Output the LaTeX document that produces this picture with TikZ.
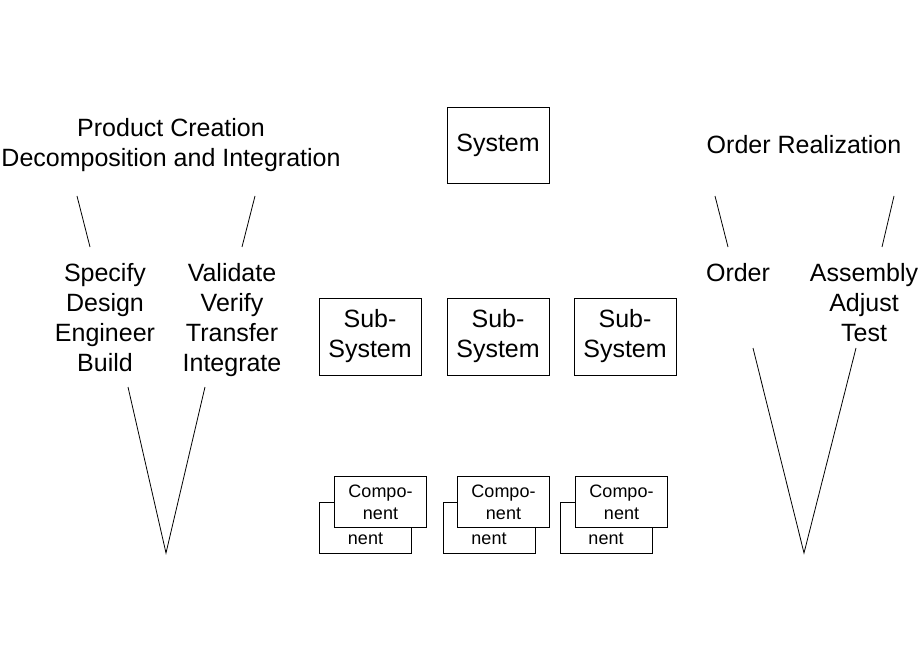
\documentclass[tikz,border=0pt]{standalone}
\usepackage{fontspec}
\setmainfont{Liberation Sans}
\begin{document}
\begin{tikzpicture}[x=1pt,y=-1pt,
  lbl/.style={align=center,inner sep=0pt,font=\fontsize{25}{30}\selectfont},
  boxnode/.style={draw,line width=0.8pt,align=center,inner sep=0pt,font=\fontsize{25}{30}\selectfont},
  compnode/.style={draw,line width=0.8pt,fill=white,align=center,inner sep=0pt,minimum width=92pt,minimum height=51pt,font=\fontsize{18}{22}\selectfont},
  ln/.style={line width=0.8pt}]
\useasboundingbox (0,0) rectangle (920,660);
% titles
\node[lbl] (pc) at (171,145) {Product Creation\\Decomposition and Integration};
\node[lbl] (or) at (804,145) {Order Realization};
% system
\node[boxnode,minimum width=102pt,minimum height=76pt] (sys) at (498,145) {\raisebox{-2pt}{System}};
\node[boxnode,minimum width=102pt,minimum height=77pt] (s1) at (370,336.5) {\raisebox{-2pt}{Sub-}\\\raisebox{-2pt}{System}};
\node[boxnode,minimum width=102pt,minimum height=77pt] (s2) at (498,336.5) {\raisebox{-2pt}{Sub-}\\\raisebox{-2pt}{System}};
\node[boxnode,minimum width=102pt,minimum height=77pt] (s3) at (625,336.5) {\raisebox{-2pt}{Sub-}\\\raisebox{-2pt}{System}};
% components (back then front); back label is hidden except its second line
\node[compnode] (c1b) at (365.5,527.5) {\phantom{Compo-}\\nent};
\node[compnode] (c1f) at (380.5,502) {Compo-\\nent};
\node[compnode] (c2b) at (489,527.5) {\phantom{Compo-}\\nent};
\node[compnode] (c2f) at (503.5,502) {Compo-\\nent};
\node[compnode] (c3b) at (606,527.5) {\phantom{Compo-}\\nent};
\node[compnode] (c3f) at (621.5,502) {Compo-\\nent};
% left labels
\node[lbl] (spec) at (105,318) {Specify\\Design\\Engineer\\Build};
\node[lbl] (val) at (232,320) {Validate\\Verify\\Transfer\\Integrate};
% right labels
\node[lbl] (ord) at (738,273) {Order};
\node[lbl] (asm) at (864,303) {Assembly\\Adjust\\Test};
% lines left
\coordinate (la1) at (77,196); \coordinate (la2) at (90,247);
\coordinate (lb1) at (255,196); \coordinate (lb2) at (242,247);
\coordinate (lv1) at (128,387); \coordinate (lv2) at (166,553); \coordinate (lv3) at (205,387);
\draw[ln] (la1) -- (la2);
\draw[ln] (lb1) -- (lb2);
\draw[ln] (lv1) -- (lv2) -- (lv3);
% lines right
\coordinate (ra1) at (715,196); \coordinate (ra2) at (728,247);
\coordinate (rb1) at (894,196); \coordinate (rb2) at (882,247);
\coordinate (rv1) at (753,348); \coordinate (rv2) at (804,553); \coordinate (rv3) at (856,348);
\draw[ln] (ra1) -- (ra2);
\draw[ln] (rb1) -- (rb2);
\draw[ln] (rv1) -- (rv2) -- (rv3);
\end{tikzpicture}
\end{document}
